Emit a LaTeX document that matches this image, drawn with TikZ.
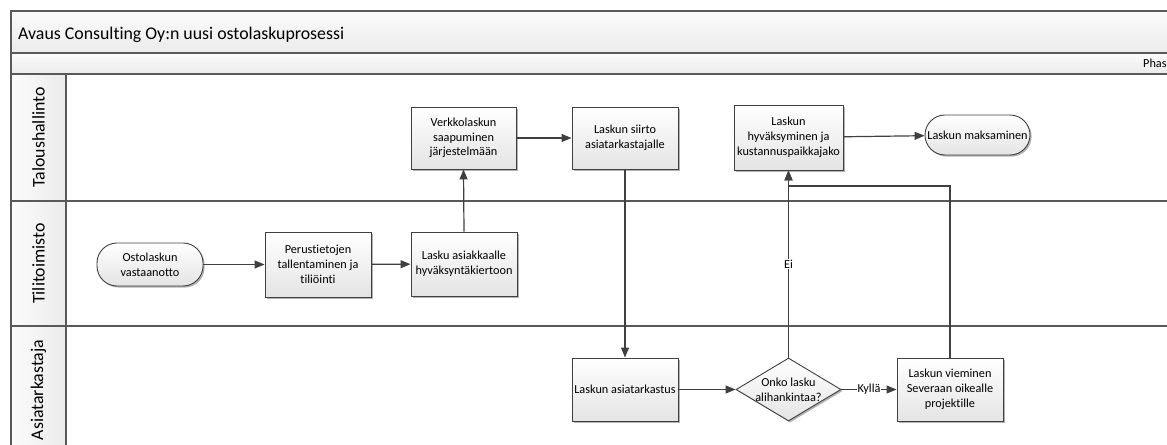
\documentclass[tikz,border=0pt]{standalone}
\usepackage{fontspec}
\setmainfont{Carlito}[Ligatures=NoCommon]
\usetikzlibrary{arrows.meta,shadows,shapes.geometric}

\definecolor{frameline}{HTML}{595959}
\definecolor{conn}{HTML}{404040}
\definecolor{bandtop}{HTML}{FBFBFB}
\definecolor{bandbot}{HTML}{EBEBEB}
\definecolor{boxbot}{HTML}{E4E4E4}

\begin{document}
\begin{tikzpicture}[x=1bp,y=-1bp,
  frame/.style={draw=frameline,line width=1.4bp},
  band/.style={frame,top color=bandtop,bottom color=bandbot},
  headcol/.style={frame,left color=bandtop,right color=bandbot},
  nodefont/.style={font=\fontsize{12.3}{14.8}\selectfont},
  bigfont/.style={font=\fontsize{17.9}{20}\selectfont},
  shade/.style={drop shadow={shadow xshift=1.6bp,shadow yshift=-1.6bp,fill=black!30,opacity=1}},
  proc/.style={draw=conn,line width=0.9bp,top color=white,bottom color=boxbot,shade,
    minimum width=106bp,minimum height=63bp,align=center,nodefont,inner sep=1bp},
  term/.style={proc,rounded corners=20bp,minimum height=42bp},
  decision/.style={shape=diamond,draw=conn,line width=0.9bp,top color=white,bottom color=boxbot,
    shade,minimum width=105bp,minimum height=63bp,inner sep=0pt},
  arr/.style={draw=conn,line width=1.2bp,-{Triangle[length=10bp,width=8bp]}},
  lbl/.style={nodefont,fill=white,inner sep=1bp},
  lanelbl/.style={bigfont,rotate=90,inner sep=0pt}
]
\useasboundingbox (0,0) rectangle (1167,445);
\clip (0,0) rectangle (1167,445);

% pool frame: title band, phase band, three lanes
\fill[white] (11,11) rectangle (1185,460);
\path[band] (11,11) rectangle (1185,53);
\path[band] (11,53) rectangle (1185,74);
\path[headcol] (11,74) rectangle (66,460);
\draw[frame] (11,74) rectangle (1185,201);
\draw[frame] (11,201) rectangle (1185,326);
\draw[frame] (11,326) rectangle (1185,460);
\draw[frame] (66,74) -- (66,460);

\node[bigfont,anchor=base west,inner sep=0pt] (title) at (18,39.5) {Avaus Consulting Oy:n uusi ostolaskuprosessi};
\node[nodefont,anchor=base west,inner sep=0pt] (phase) at (1143,67.5) {Phase};

\node[lanelbl] (lane1) at (38.5,137.5) {Taloushallinto};
\node[lanelbl] (lane2) at (38.5,263.5) {Tilitoimisto};
\node[lanelbl] (lane3) at (38.5,390) {Asiatarkastaja};

% process steps
\node[term,minimum width=106bp,minimum height=43bp] (osto) at (150,264.5) {Ostolaskun\\vastaanotto};
\node[proc,minimum height=65bp] (perus) at (318,264.5) {Perustietojen\\tallentaminen ja\\tiliöinti};
\node[proc,minimum height=64bp] (lasku) at (464,264) {Lasku asiakkaalle\\hyväksyntäkiertoon};
\node[proc,minimum width=105bp,minimum height=62bp] (verk) at (463.5,138) {Verkkolaskun\\saapuminen\\järjestelmään};
\node[proc,minimum height=62bp] (siirto) at (625,138) {Laskun siirto\\asiatarkastajalle};
\node[proc,minimum width=109bp,minimum height=65bp] (hyv) at (788.5,137.5) {Laskun\\hyväksyminen ja\\kustannuspaikkajako};
\node[term,minimum width=105bp,minimum height=40bp] (maks) at (977.5,135) {Laskun maksaminen};
\node[proc] (asia) at (625,389.5) {Laskun asiatarkastus};
\node[decision] (dec) at (788.5,389.5) {};
\node[nodefont,align=center,inner sep=0pt] (declbl) at (dec.center) {Onko lasku\\alihankintaa?};
\node[proc] (viem) at (950,389.5) {Laskun vieminen\\Severaan oikealle\\projektille};

\coordinate (merge) at (788.5,186);

% connectors
\draw[arr] (osto) -- (perus);
\draw[arr] (perus) -- (lasku);
\draw[arr] (lasku.north) -- (verk.south);
\draw[arr] (verk) -- (siirto);
\draw[arr] (siirto.south) -- (asia.north);
\draw[arr] (hyv) -- (maks);
\draw[arr] (asia) -- (dec);
\draw[arr] (dec.east) -- node[lbl] {Kyllä} (viem.west);
\draw[arr] (dec.north) -- node[lbl] {Ei} (hyv.south);
\draw[arr] (viem.north) |- (merge) -- (hyv.south);
\end{tikzpicture}
\end{document}
